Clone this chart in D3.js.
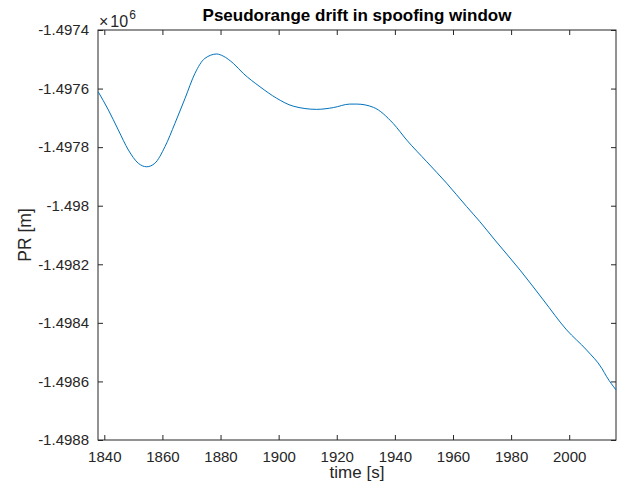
<!DOCTYPE html>
<html>
<head>
<meta charset="utf-8">
<script src="https://cdn.jsdelivr.net/npm/d3@7"></script>
<style>
  html, body { margin: 0; padding: 0; background: #fff; }
  svg { display: block; }
</style>
</head>
<body>
<div id="chart"></div>
<script>
// ─── Data ───
const timeS = [1837.9, 1841.4, 1844.8, 1848.3, 1851.7, 1854.6, 1857.4, 1860.9, 1864.3, 1867.8,
  1871.2, 1874.6, 1878.7, 1880.9, 1884.4, 1887.8, 1893.6, 1899.3, 1905.0, 1913.1,
  1918.8, 1924.5, 1926.9, 1932.6, 1939.4, 1944.1, 1951.0, 1957.8, 1964.7, 1969.3,
  1974.4, 1983.1, 1991.1, 1999.1, 2006.0, 2011.2, 2012.9, 2016.1];
const prM = [-1497611, -1497673, -1497741, -1497810, -1497855, -1497867, -1497855, -1497798, -1497719, -1497633,
  -1497548, -1497497, -1497482, -1497489, -1497514, -1497548, -1497594, -1497633, -1497660, -1497671,
  -1497665, -1497653, -1497653, -1497664, -1497719, -1497776, -1497850, -1497923, -1498003, -1498055,
  -1498117, -1498220, -1498322, -1498424, -1498493, -1498555, -1498584, -1498629];
const xTicks = [1840, 1860, 1880, 1900, 1920, 1940, 1960, 1980, 2000];
const yTicks = [-1.4974, -1.4976, -1.4978, -1.498, -1.4982, -1.4984, -1.4986, -1.4988];

const W = 618, H = 493;
const m = { left: 98, top: 30, right: 2, bottom: 53 };
const iw = W - m.left - m.right, ih = H - m.top - m.bottom;
const ink = '#262626';
const font = "'Liberation Sans', Arial, Helvetica, sans-serif";

const svg = d3.select('#chart').append('svg')
  .attr('width', W).attr('height', H)
  .style('font-family', font);

const x = d3.scaleLinear().domain([1837.83, 2016.1]).range([0, iw]);
const y = d3.scaleLinear().domain([-1.4988, -1.4974]).range([ih, 0]);

const g = svg.append('g').attr('transform', `translate(${m.left},${m.top})`);

// ─── Axes (ticks inside, MATLAB style) ───
const styleAxis = sel => {
  sel.select('.domain').remove();
  sel.selectAll('line').attr('stroke', ink).attr('stroke-width', 1);
  sel.selectAll('text').attr('fill', ink).attr('font-size', '15px').attr('font-family', font);
};

g.append('g').attr('transform', `translate(0,${ih})`)
  .call(d3.axisBottom(x).tickValues(xTicks).tickSize(-5).tickPadding(11).tickFormat(d3.format('d')))
  .call(styleAxis);
g.append('g')
  .call(d3.axisTop(x).tickValues(xTicks).tickSize(-5).tickFormat(''))
  .call(styleAxis);
g.append('g')
  .call(d3.axisLeft(y).tickValues(yTicks).tickSize(-5).tickPadding(9).tickFormat(d => String(+d.toFixed(4))))
  .call(styleAxis);
g.append('g').attr('transform', `translate(${iw},0)`)
  .call(d3.axisRight(y).tickValues(yTicks).tickSize(-5).tickFormat(''))
  .call(styleAxis);

// Box
g.append('rect')
  .attr('width', iw).attr('height', ih)
  .attr('fill', 'none').attr('stroke', ink).attr('stroke-width', 1);

// ─── Line ───
const pts = timeS.map((t, i) => [t, prM[i] / 1e6]);
g.append('path')
  .datum(pts)
  .attr('fill', 'none')
  .attr('stroke', '#0072BD')
  .attr('stroke-width', 1)
  .attr('d', d3.line().x(d => x(d[0])).y(d => y(d[1])).curve(d3.curveMonotoneX));

// ─── Labels ───
const mult = svg.append('text')
  .attr('x', m.left + 1).attr('y', 27)
  .attr('fill', ink).attr('font-size', '16px');
mult.append('tspan').text('×');
mult.append('tspan').attr('dx', 2).text('10');
mult.append('tspan').attr('dy', -8).attr('dx', 1).attr('font-size', '12px').text('6');

svg.append('text')
  .attr('x', m.left + iw / 2).attr('y', 21)
  .attr('text-anchor', 'middle')
  .attr('font-weight', 'bold').attr('font-size', '17px')
  .attr('fill', '#000')
  .text('Pseudorange drift in spoofing window');

svg.append('text')
  .attr('x', m.left + iw / 2).attr('y', 478)
  .attr('text-anchor', 'middle')
  .attr('font-size', '17px').attr('fill', ink)
  .text('time [s]');

svg.append('text')
  .attr('transform', `translate(31,${m.top + ih / 2}) rotate(-90)`)
  .attr('text-anchor', 'middle')
  .attr('font-size', '17.5px').attr('fill', ink)
  .text('PR [m]');
</script>
</body>
</html>
